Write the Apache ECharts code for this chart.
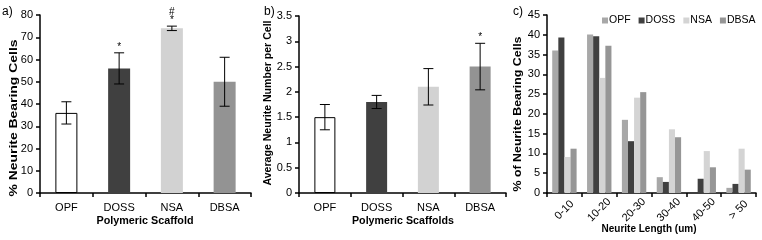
<!DOCTYPE html>
<html>
<head>
<meta charset="utf-8">
<script src="https://cdn.jsdelivr.net/npm/echarts@6/dist/echarts.min.js"></script>
<style>
  html, body { margin: 0; padding: 0; background: #fff; }
  #chart { width: 762px; height: 240px; }
</style>
</head>
<body>
<div id="chart"></div>
<script>
  // data
  const scaffolds = ['OPF', 'DOSS', 'NSA', 'DBSA']
  const pctBearing = [36, 56, 74, 50]
  const pctBearingErr = [5, 7, 1, 11]
  const pctBearingSig = ['', '*', '#\n*', '']
  const neuriteNum = [1.5, 1.8, 2.1, 2.5]
  const neuriteNumErr = [0.25, 0.13, 0.36, 0.46]
  const neuriteNumSig = ['', '', '', '*']
  const lengthBins = ['0-10', '10-20', '20-30', '30-40', '40-50', '> 50']
  const lenOPF = [36.0, 40.1, 18.5, 4.0, 0, 1.3]
  const lenDOSS = [39.3, 39.6, 13.1, 2.8, 3.6, 2.3]
  const lenNSA = [9.1, 29.1, 24.1, 16.1, 10.6, 11.2]
  const lenDBSA = [11.2, 37.2, 25.5, 14.1, 6.5, 5.9]

  const FONT = 'Liberation Sans, Arial, sans-serif'
  const barColors = ['#ffffff', '#404040', '#d2d2d2', '#939393']
  const lenColors = ['#a8a8a8', '#404040', '#d4d4d4', '#969696']

  let chart = echarts.init(document.getElementById('chart'), null, { renderer: 'canvas' })

  // text width helper, used to stretch titles to the length seen in the figure
  let measureCtx = document.createElement('canvas').getContext('2d')
  function textWidth (txt, font) {
    measureCtx.font = font
    return measureCtx.measureText(txt).width
  }

  function xAxisFor (grid, cats, rotate) {
    let label = { color: '#000', fontFamily: FONT, fontSize: 11, margin: 9, interval: 0 }
    if (rotate) {
      // centred under the category, like the excel original
      label.rotate = rotate
      label.align = 'center'
      label.verticalAlign = 'middle'
      label.margin = 17
    }
    return {
      type: 'category',
      gridIndex: grid,
      data: cats,
      axisLine: { lineStyle: { color: '#000', width: 1.5 } },
      axisTick: { show: true, length: 4, lineStyle: { color: '#000', width: 1.5 } },
      axisLabel: label
    }
  }

  function yAxisFor (grid, max, step) {
    return {
      type: 'value',
      gridIndex: grid,
      min: 0,
      max: max,
      interval: step,
      splitLine: { show: false },
      axisLine: { show: true, lineStyle: { color: '#000', width: 1.5 } },
      axisTick: { show: true, length: 4, lineStyle: { color: '#000', width: 1.5 } },
      axisLabel: { color: '#000', fontFamily: FONT, fontSize: 11, margin: 7 }
    }
  }

  // error bars + significance marks
  function errSeries (grid, vals, errs, sigs) {
    return {
      type: 'custom',
      xAxisIndex: grid,
      yAxisIndex: grid,
      clip: false,
      z: 5,
      data: vals.map((v, i) => [i, v - errs[i], v + errs[i]]),
      renderItem: function (params, api) {
        let lo = api.coord([api.value(0), api.value(1)])
        let hi = api.coord([api.value(0), api.value(2)])
        let cw = 5
        let st = { stroke: '#000', lineWidth: 1 }
        let kids = [
          { type: 'line', shape: { x1: hi[0], y1: hi[1], x2: lo[0], y2: lo[1] }, style: st },
          { type: 'line', shape: { x1: hi[0] - cw, y1: hi[1], x2: hi[0] + cw, y2: hi[1] }, style: st },
          { type: 'line', shape: { x1: lo[0] - cw, y1: lo[1], x2: lo[0] + cw, y2: lo[1] }, style: st }
        ]
        let s = sigs[params.dataIndex]
        if (s) {
          kids.push({
            type: 'text',
            x: hi[0],
            y: hi[1] - 2,
            style: { text: s, fill: '#000', font: '10px ' + FONT, align: 'center', verticalAlign: 'bottom', lineHeight: 8 }
          })
        }
        return { type: 'group', children: kids }
      }
    }
  }

  // axis titles (bold), stretched to the length measured on the figure
  function titleText (txt, x, y, len, rot) {
    let font = 'bold 11px ' + FONT
    return {
      type: 'text',
      x: x,
      y: y,
      rotation: rot ? Math.PI / 2 : 0,
      scaleX: len / textWidth(txt, font),
      style: { text: txt, fill: '#000', font: font, align: 'center', verticalAlign: 'middle' }
    }
  }

  function panelLabel (txt, x, y) {
    return {
      type: 'text',
      x: x,
      y: y,
      style: { text: txt, fill: '#000', font: '12px ' + FONT, align: 'left', verticalAlign: 'middle' }
    }
  }

  chart.setOption({
    animation: false,
    textStyle: { fontFamily: FONT },
    grid: [
      { left: 40, right: 511, top: 15, bottom: 47 },
      { left: 299, right: 256, top: 16, bottom: 47 },
      { left: 547, right: 6, top: 15, bottom: 47 }
    ],
    legend: {
      left: 602,
      top: 15,
      padding: 0,
      itemWidth: 6,
      itemHeight: 6,
      itemGap: 8,
      icon: 'rect',
      textStyle: { color: '#000', fontFamily: FONT, fontSize: 10.5, padding: [0, 0, 0, -4] },
      data: scaffolds
    },
    xAxis: [
      xAxisFor(0, scaffolds),
      xAxisFor(1, scaffolds),
      xAxisFor(2, lengthBins, 45)
    ],
    yAxis: [
      yAxisFor(0, 80, 10),
      yAxisFor(1, 3.5, 0.5),
      yAxisFor(2, 45, 5)
    ],
    graphic: [
      panelLabel('a)', 2, 12),
      panelLabel('b)', 264, 12),
      panelLabel('c)', 513, 12),
      titleText('% Neurite Bearing Cells', 14, 118, 157, true),
      titleText('Average Neurite Number per Cell', 268, 103, 165, true),
      titleText('% of Neurite Bearing Cells', 518, 114, 155, true),
      titleText('Polymeric Scaffold', 145, 221, 97),
      titleText('Polymeric Scaffolds', 403, 221, 102),
      titleText('Neurite Length (um)', 649, 229, 95)
    ],
    series: [
      {
        type: 'bar',
        xAxisIndex: 0,
        yAxisIndex: 0,
        barWidth: 22,
        data: pctBearing.map((v, i) => ({
          value: v,
          itemStyle: { color: barColors[i], borderColor: i === 0 ? '#000' : barColors[i], borderWidth: i === 0 ? 1 : 0 }
        }))
      },
      errSeries(0, pctBearing, pctBearingErr, pctBearingSig),
      {
        type: 'bar',
        xAxisIndex: 1,
        yAxisIndex: 1,
        barWidth: 21,
        data: neuriteNum.map((v, i) => ({
          value: v,
          itemStyle: { color: barColors[i], borderColor: i === 0 ? '#000' : barColors[i], borderWidth: i === 0 ? 1 : 0 }
        }))
      },
      errSeries(1, neuriteNum, neuriteNumErr, neuriteNumSig),
      { name: 'OPF', type: 'bar', xAxisIndex: 2, yAxisIndex: 2, barGap: 0, barCategoryGap: '30%', itemStyle: { color: lenColors[0] }, data: lenOPF },
      { name: 'DOSS', type: 'bar', xAxisIndex: 2, yAxisIndex: 2, barGap: 0, barCategoryGap: '30%', itemStyle: { color: lenColors[1] }, data: lenDOSS },
      { name: 'NSA', type: 'bar', xAxisIndex: 2, yAxisIndex: 2, barGap: 0, barCategoryGap: '30%', itemStyle: { color: lenColors[2] }, data: lenNSA },
      { name: 'DBSA', type: 'bar', xAxisIndex: 2, yAxisIndex: 2, barGap: 0, barCategoryGap: '30%', itemStyle: { color: lenColors[3] }, data: lenDBSA }
    ]
  })
</script>
</body>
</html>
